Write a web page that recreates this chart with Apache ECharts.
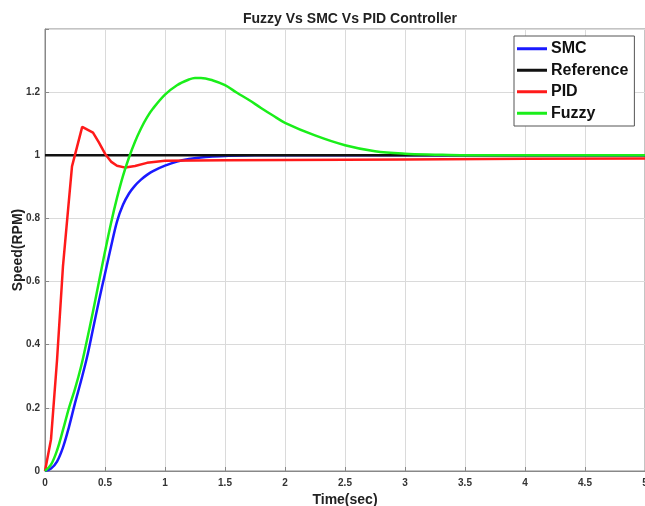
<!DOCTYPE html>
<html>
<head>
<meta charset="utf-8">
<script src="https://cdn.jsdelivr.net/npm/echarts@6.0.0/dist/echarts.min.js"></script>
<style>
  html, body { margin: 0; padding: 0; background: #fff; }
  #chart { width: 645px; height: 506px; }
</style>
</head>
<body>
<div id="chart"></div>
<script>
// values
const refTime = [0, 5]
const refValues = [1, 1]

const smcTime = [0, 0.05, 0.1, 0.15, 0.2, 0.25, 0.3, 0.35, 0.4, 0.45, 0.5, 0.55, 0.6, 0.65, 0.7, 0.75, 0.8, 0.85, 0.9, 1.0, 1.1, 1.2, 1.3, 1.4, 1.5, 1.75, 2, 3, 4, 5]
const smcValues = [0, 0.008, 0.03, 0.075, 0.14, 0.215, 0.285, 0.36, 0.45, 0.54, 0.625, 0.71, 0.79, 0.843, 0.879, 0.904, 0.923, 0.938, 0.95, 0.967, 0.98, 0.988, 0.993, 0.996, 0.998, 1.0, 1.0, 1.0, 1.0, 1.0]

const pidTime = [0, 0.05, 0.1, 0.15, 0.2, 0.225, 0.31, 0.4, 0.45, 0.5, 0.55, 0.6, 0.67, 0.75, 0.85, 1.0, 1.5, 2, 3, 4, 5]
const pidValues = [0, 0.1, 0.35, 0.65, 0.86, 0.965, 1.09, 1.072, 1.04, 1.005, 0.98, 0.967, 0.961, 0.966, 0.976, 0.983, 0.984, 0.985, 0.987, 0.989, 0.99]

const fuzzyTime = [0, 0.05, 0.1, 0.15, 0.2, 0.25, 0.3, 0.35, 0.4, 0.45, 0.5, 0.55, 0.6, 0.65, 0.7, 0.75, 0.8, 0.85, 0.9, 1.0, 1.1, 1.2, 1.25, 1.3, 1.4, 1.5, 1.6, 1.7, 1.8, 1.9, 2.0, 2.25, 2.5, 2.75, 3.0, 3.25, 3.5, 5]
const fuzzyValues = [0, 0.02, 0.065, 0.13, 0.2, 0.26, 0.33, 0.415, 0.505, 0.6, 0.695, 0.785, 0.865, 0.935, 0.993, 1.043, 1.085, 1.12, 1.148, 1.192, 1.222, 1.24, 1.245, 1.245, 1.237, 1.222, 1.198, 1.175, 1.15, 1.126, 1.103, 1.063, 1.032, 1.013, 1.005, 1.002, 1.0, 1.0]

const xTicks = { min: 0, max: 5, interval: 0.5 }
const yTicks = { min: 0, max: 1.4, interval: 0.2 }

const zip = (xs, ys) => xs.map((x, i) => [x, ys[i]])

const font = "'Liberation Sans', Arial, Helvetica, sans-serif"

const lineSeries = (name, xs, ys, color, smooth) => ({
  name,
  type: 'line',
  data: zip(xs, ys),
  showSymbol: false,
  smooth,
  lineStyle: { color, width: 2.5 },
  itemStyle: { color },
  animation: false
})

const chart = echarts.init(document.getElementById('chart'), null, { renderer: 'canvas' })

chart.setOption({
  backgroundColor: '#fff',
  animation: false,
  title: {
    text: 'Fuzzy Vs SMC Vs PID Controller',
    left: 238,
    top: 7,
    textStyle: { fontFamily: font, fontSize: 14, fontWeight: 'bold', color: '#222' }
  },
  grid: {
    left: 45,
    right: 0,
    top: 29,
    bottom: 35,
    containLabel: false,
    outerBoundsMode: 'none',
    show: true,
    borderColor: '#888',
    borderWidth: 1
  },
  legend: {
    orient: 'vertical',
    left: 514,
    top: 36,
    width: 119,
    padding: [4, 6, 4, 3],
    itemGap: 4,
    itemWidth: 30,
    itemHeight: 3,
    icon: 'rect',
    backgroundColor: '#fff',
    borderColor: '#555',
    borderWidth: 1,
    borderRadius: 0,
    data: ['SMC', 'Reference', 'PID', 'Fuzzy'],
    textStyle: { fontFamily: font, fontSize: 16, fontWeight: 'bold', color: '#111', lineHeight: 17.5, padding: [0, 0, 0, -1] }
  },
  xAxis: {
    type: 'value',
    min: xTicks.min,
    max: xTicks.max,
    interval: xTicks.interval,
    name: 'Time(sec)',
    nameLocation: 'middle',
    nameGap: 19,
    nameTextStyle: { fontFamily: font, fontSize: 14, fontWeight: 'bold', color: '#222' },
    axisLine: { show: true, lineStyle: { color: '#888' } },
    axisTick: { show: true, inside: true, length: 4, lineStyle: { color: '#888' } },
    axisLabel: { fontFamily: font, fontSize: 10, fontWeight: 'bold', color: '#333', margin: 7, showMaxLabel: true },
    splitLine: { show: true, lineStyle: { color: '#dadada', width: 1 } }
  },
  yAxis: {
    type: 'value',
    min: yTicks.min,
    max: yTicks.max,
    interval: yTicks.interval,
    name: 'Speed(RPM)',
    nameLocation: 'middle',
    nameGap: 20,
    nameMoveOverlap: false,
    nameTextStyle: { fontFamily: font, fontSize: 14, fontWeight: 'bold', color: '#222' },
    axisLine: { show: true, lineStyle: { color: '#888' } },
    axisTick: { show: true, inside: true, length: 4, lineStyle: { color: '#888' } },
    axisLabel: {
      fontFamily: font, fontSize: 10, fontWeight: 'bold', color: '#333', margin: 5,
      formatter: v => (Math.abs(v - 1.4) < 1e-9 ? '' : String(Math.round(v * 10) / 10))
    },
    splitLine: { show: true, lineStyle: { color: '#dadada', width: 1 } }
  },
  series: [
    lineSeries('SMC', smcTime, smcValues, '#1a1aff', 0.35),
    lineSeries('Reference', refTime, refValues, '#111111', false),
    lineSeries('PID', pidTime, pidValues, '#ff1a1a', false),
    lineSeries('Fuzzy', fuzzyTime, fuzzyValues, '#1aee1a', 0.35)
  ]
})
</script>
</body>
</html>
